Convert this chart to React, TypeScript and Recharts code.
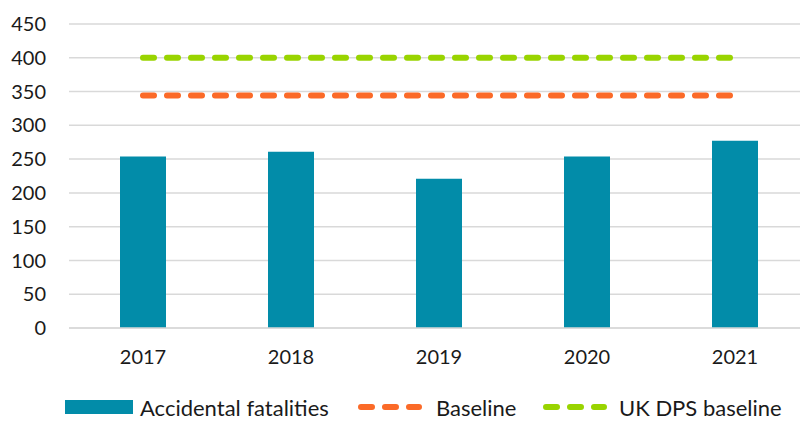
import { Bar, CartesianGrid, ComposedChart, Legend, Line, XAxis, YAxis } from 'recharts';

const years = ['2017', '2018', '2019', '2020', '2021'];
const fatalities = [254, 261, 221, 254, 277];
const baseline = [344, 344, 344, 344, 344];
const ukDpsBaseline = [400, 400, 400, 400, 400];
const yTicks = [0, 50, 100, 150, 200, 250, 300, 350, 400, 450];

const BAR = '#028ca9';
const ORANGE = '#fb6a28';
const GREEN = '#99d400';
const FONT = 'Lato, "Open Sans", sans-serif';

const data = years.map((year, i) => ({
  year,
  fatalities: fatalities[i],
  baseline: baseline[i],
  ukDps: ukDpsBaseline[i],
}));

function Dashes({ color }: { color: string }) {
  return (
    <svg width={64} height={12} style={{ display: 'block' }}>
      <line
        x1={3}
        y1={6}
        x2={61}
        y2={6}
        stroke={color}
        strokeWidth={6}
        strokeLinecap="round"
        strokeDasharray="11 13"
      />
    </svg>
  );
}

// legend items sit at fixed x offsets, like the original
function ChartLegend() {
  const at = (left: number) =>
    ({ position: 'absolute', left, top: 0, height: 30, display: 'flex', alignItems: 'center' }) as const;
  return (
    <div
      style={{
        position: 'relative',
        height: 30,
        fontFamily: FONT,
        fontSize: 22,
        color: '#1a1a1a',
        top: 14,
      }}
    >
      <div style={at(65)}>
        <div style={{ width: 68, height: 14, background: BAR }} />
      </div>
      <div style={at(140)}>Accidental fatalities</div>
      <div style={at(358)}>
        <Dashes color={ORANGE} />
      </div>
      <div style={at(436)}>Baseline</div>
      <div style={at(543)}>
        <Dashes color={GREEN} />
      </div>
      <div style={at(619)}>UK DPS baseline</div>
    </div>
  );
}

export default function App() {
  return (
    <div
      style={{
        position: 'fixed',
        left: 0,
        top: 0,
        width: 800,
        height: 421,
        overflow: 'hidden',
        background: '#fff',
      }}
    >
      <ComposedChart
        width={810}
        height={421}
        data={data}
        margin={{ top: 24, right: 1, left: 0, bottom: 0 }}
      >
        <CartesianGrid vertical={false} stroke="#d9d9d9" strokeWidth={1.5} />
        <XAxis
          dataKey="year"
          axisLine={{ stroke: '#d9d9d9', strokeWidth: 1.5 }}
          tickLine={false}
          tickSize={0}
          tickMargin={22}
          height={50}
          tick={{ fill: '#1a1a1a', fontSize: 20, fontFamily: FONT }}
        />
        <YAxis
          domain={[0, 450]}
          ticks={yTicks}
          interval={0}
          width={69}
          axisLine={false}
          tickLine={false}
          tickSize={0}
          tickMargin={23}
          tick={{ fill: '#1a1a1a', fontSize: 20, fontFamily: FONT }}
        />
        <Bar dataKey="fatalities" fill={BAR} barSize={46} isAnimationActive={false} />
        <Line
          dataKey="baseline"
          stroke={ORANGE}
          strokeWidth={6}
          strokeLinecap="round"
          strokeDasharray="11 13"
          dot={false}
          activeDot={false}
          isAnimationActive={false}
        />
        <Line
          dataKey="ukDps"
          stroke={GREEN}
          strokeWidth={6}
          strokeLinecap="round"
          strokeDasharray="11 13"
          dot={false}
          activeDot={false}
          isAnimationActive={false}
        />
        <Legend verticalAlign="bottom" height={43} content={() => <ChartLegend />} />
      </ComposedChart>
    </div>
  );
}
